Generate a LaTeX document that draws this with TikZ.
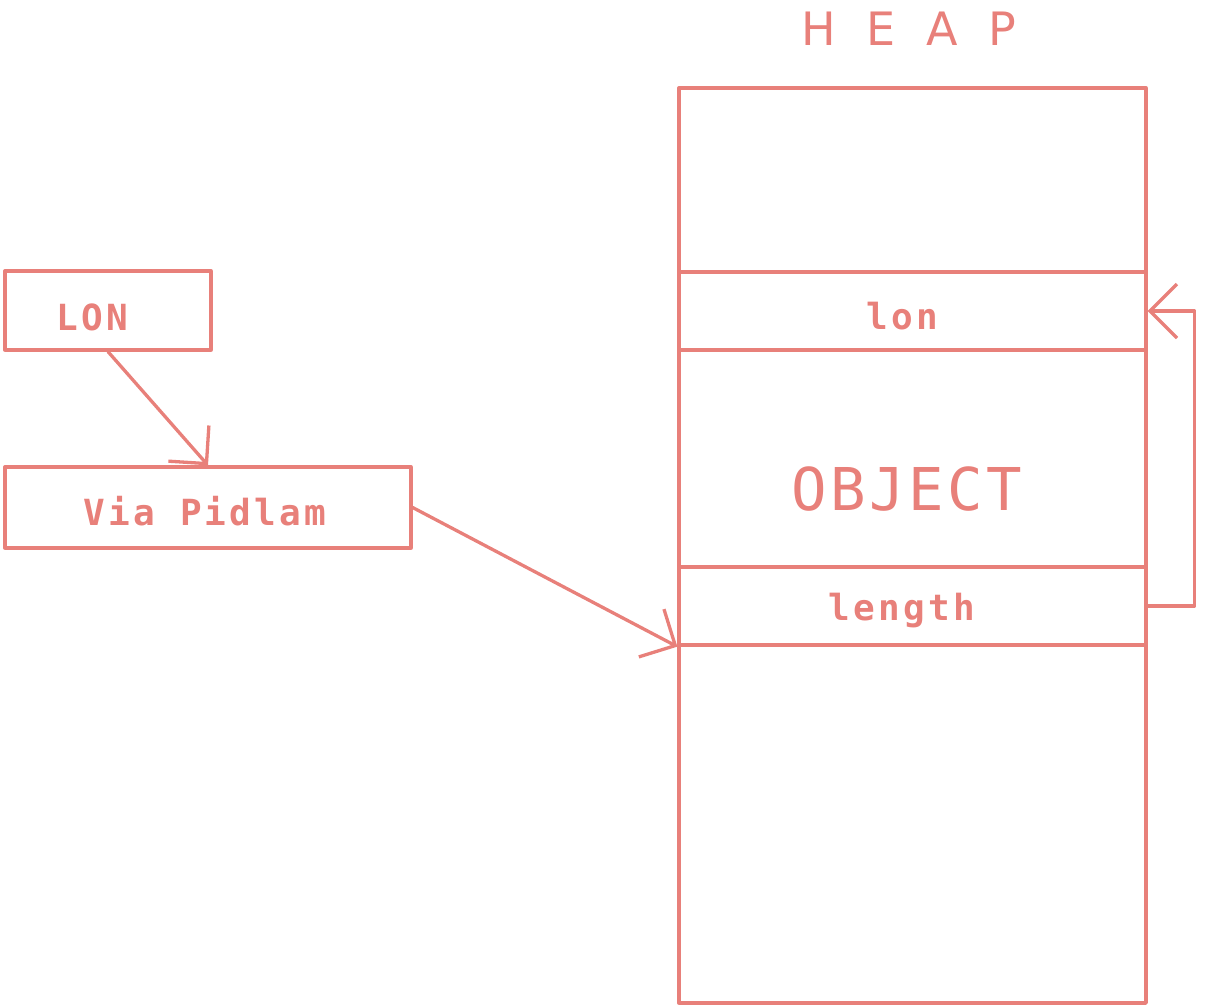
\documentclass[tikz,border=0pt]{standalone}
\usepackage{fontspec}
\usetikzlibrary{arrows.meta}
\newfontfamily\plotmono[LetterSpace=9]{DejaVu Sans Mono Bold}
\newfontfamily\plotthin[LetterSpace=6]{DejaVu Sans Mono}
\newfontfamily\plottitle[LetterSpace=67]{DejaVu Sans}
\definecolor{pen}{RGB}{232,128,122}
\tikzset{
  ink/.style={draw=pen, line width=3.3pt, line cap=round, line join=round},
  cell/.style={ink, rectangle, inner sep=0pt, minimum width=467pt, minimum height=78pt},
  pbox/.style={ink, rectangle, inner sep=0pt},
  lbl/.style={text=pen, inner sep=0pt, anchor=base, font=\plotmono\fontsize{36}{36}\selectfont},
  arr/.style={ink, -{Straight Barb[length=27pt, width=54pt]}},
}
\begin{document}
\begin{tikzpicture}[x=1pt, y=-1pt]
  \useasboundingbox (0,0) rectangle (1205,1007);

  % heap column and its two marked cells
  \node[pbox, minimum width=467pt, minimum height=915pt] (heap) at (912.5,545.5) {};
  \node[cell] (lonslot) at (912.5,311) {};
  \node[cell] (lenslot) at (912.5,606) {};
  \node[lbl] (lontag) at (902,329) {lon};
  \node[lbl] (lentag) at (902,620) {length};
  \node[text=pen, inner sep=0pt, anchor=base, font=\plotthin\fontsize{59}{59}\selectfont] (obj) at (907,510) {OBJECT};
  \node[text=pen, inner sep=0pt, anchor=base, font=\plottitle\fontsize{46}{46}\selectfont] (title) at (909,45) {HEAP};

  % boxes on the left
  \node[pbox, minimum width=206pt, minimum height=79pt] (lon) at (108,310.5) {};
  \node[lbl] (lontext) at (92,330) {LON};
  \node[pbox, minimum width=406pt, minimum height=81pt] (via) at (208,507.5) {};
  \node[lbl] (viatext) at (205,525) {Via Pidlam};

  % pointers
  \draw[arr] (lon.south) -- (via.north);
  \draw[arr] (via.east) -- (lenslot.south west);
  \draw[arr] (lenslot.east) -- ++(47,0) |- (lonslot.east);
\end{tikzpicture}
\end{document}
